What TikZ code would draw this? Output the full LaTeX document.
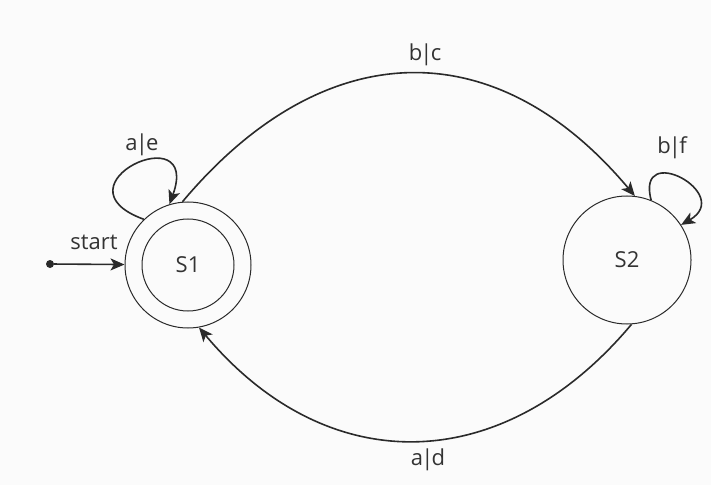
\documentclass[tikz,border=0pt]{standalone}
\usepackage{fontspec}
\setmainfont{Open Sans}
\usetikzlibrary{arrows.meta}
\definecolor{ink}{HTML}{2A2A2A}
\definecolor{txt}{HTML}{333333}
\newcommand{\vbar}{\kern-1.8pt|\kern-1.8pt}
\begin{document}
\begin{tikzpicture}[x=1pt,y=1pt,
  every node/.style={font=\fontsize{22}{26}\selectfont, text=txt},
  statecirc/.style={circle, draw=ink, line width=1pt, inner sep=0pt},
  conn/.style={draw=ink, line width=1.6pt, -{Stealth[length=14pt,width=12pt,inset=3.5pt]}},
  lbl/.style={inner sep=1pt}]
\fill[white!97!gray] (0,0) rectangle (711,485);
\useasboundingbox (0,0) rectangle (711,485);
\node[statecirc, minimum size=126pt] (S1) at (188,220) {};
\node[statecirc, minimum size=92pt] (S1in) at (188,220) {S1};
\node[statecirc, minimum size=128pt] (S2) at (627,225) {S2};
\node[circle, fill=ink, inner sep=0pt, minimum size=8pt] (dot) at (50,221) {};
\draw[conn] (dot) -- (S1);
\node[lbl] (lstart) at (94,243) {start};
\draw[conn] (S1.134) .. controls +(160:100) and +(70:95) .. (S1.107);
\node[lbl] (lae) at (142,340) {a\vbar e};
\draw[conn] (S2.68) .. controls +(105:62) and +(30:62) .. (S2.33);
\node[lbl] (lbf) at (672,337) {b\vbar f};
\draw[conn] (S1.95) .. controls +(50:218) and +(130:218) .. (S2.83);
\node[lbl] (lbc) at (425,430) {b\vbar c};
\draw[conn] (S2.274) .. controls +(-130:200) and +(-50:200) .. (S1.280);
\node[lbl] (lad) at (428,25) {a\vbar d};
\end{tikzpicture}
\end{document}
